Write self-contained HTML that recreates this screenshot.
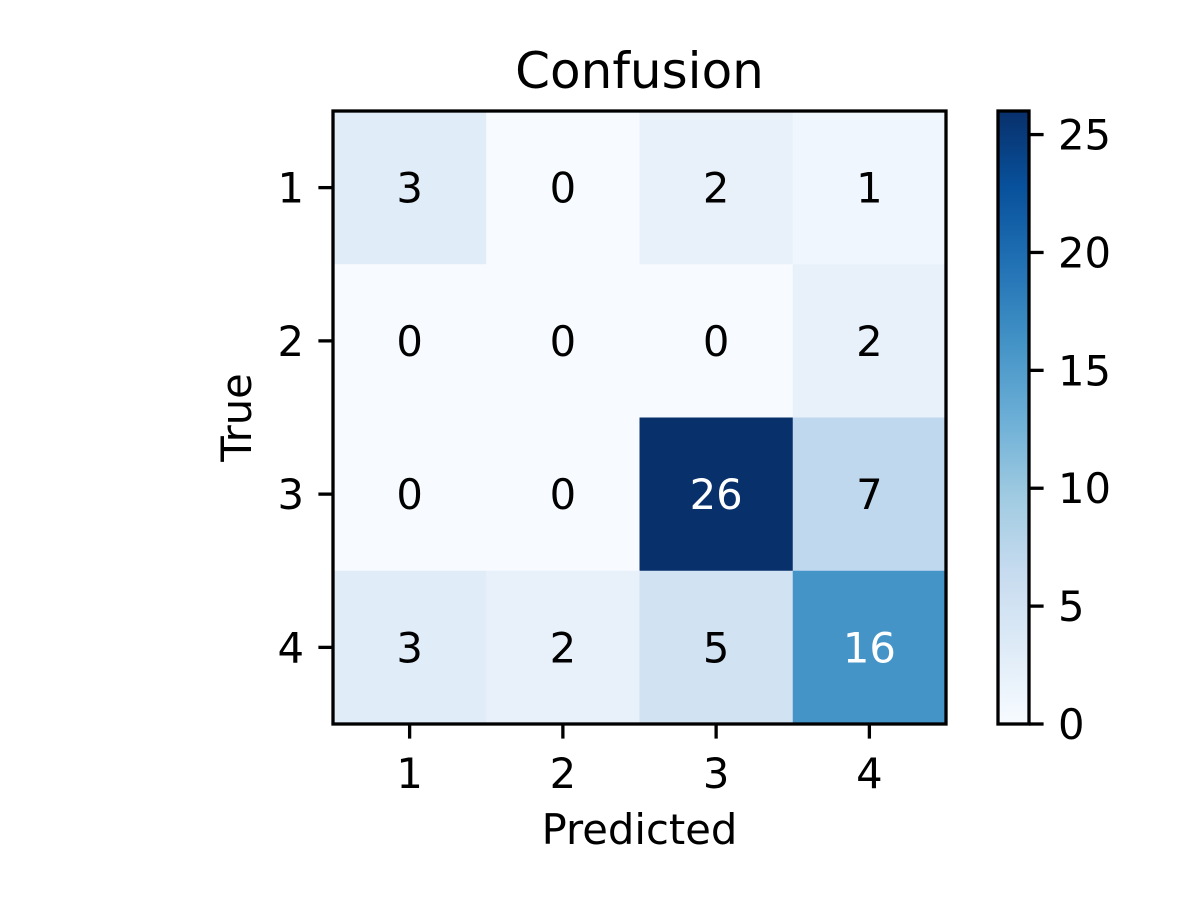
<!DOCTYPE html>
<html><head><meta charset="utf-8"><style>
html,body{margin:0;padding:0;background:#fff;}
svg text{font-family:"DejaVu Sans","Liberation Sans",sans-serif;}
</style></head><body>
<svg id="chart" width="1200" height="900" xmlns="http://www.w3.org/2000/svg">
<defs><linearGradient id="cbg" x1="0" y1="1" x2="0" y2="0"></linearGradient></defs>
</svg>
<script>
const rowLabels = ["1","2","3","4"];
const colLabels = ["1","2","3","4"];
const matrix = [
  [3,0,2,1],
  [0,0,0,2],
  [0,0,26,7],
  [3,2,5,16]
];
const cbarTicks = [0,5,10,15,20,25];

const NS="http://www.w3.org/2000/svg";
const svg=document.getElementById('chart');
function mk(tag,attrs,parent){const e=document.createElementNS(NS,tag);for(const k in attrs)e.setAttribute(k,attrs[k]);(parent||svg).appendChild(e);return e;}
const stops=["#f7fbff","#deebf7","#c6dbef","#9ecae1","#6baed6","#4292c6","#2171b5","#08519c","#08306b"];
function hex(h){return [1,3,5].map(i=>parseInt(h.substr(i,2),16));}
function blues(t){t=Math.max(0,Math.min(1,t));const p=t*(stops.length-1);const i=Math.min(Math.floor(p),stops.length-2);const f=p-i;const a=hex(stops[i]),b=hex(stops[i+1]);return `rgb(${a.map((v,k)=>Math.round(v+(b[k]-v)*f)).join(',')})`;}
const vmin=0,vmax=Math.max(...matrix.flat());
const L=333,T=111,R=946,B=724;
const cw=(R-L)/colLabels.length,ch=(B-T)/rowLabels.length;
const xc=j=>L+cw*(j+0.5), yc=i=>T+ch*(i+0.5);
const fs=41.7;

// cells
matrix.forEach((row,i)=>row.forEach((v,j)=>{
  const r=mk('rect',{x:L+cw*j,y:T+ch*i,width:cw+0.5,height:ch+0.5,fill:blues((v-vmin)/(vmax-vmin))});
  
  
  const t=mk('text',{x:xc(j),y:yc(i)+15,'text-anchor':'middle','font-size':fs,fill:v>(vmax+vmin)/2?'#fff':'#000'});
  t.textContent=v;
  
  
}));
const fr=mk('rect',{x:L,y:T,width:R-L,height:B-T,fill:'none',stroke:'#000','stroke-width':3.3});



// x ticks
colLabels.forEach((c,j)=>{
  mk('line',{x1:xc(j),x2:xc(j),y1:B,y2:B+14.6,stroke:'#000','stroke-width':3.3});
  const t=mk('text',{x:xc(j),y:B+64,'text-anchor':'middle','font-size':fs});
  t.textContent=c;
  
  
});
rowLabels.forEach((r,i)=>{
  mk('line',{x1:L-14.6,x2:L,y1:yc(i),y2:yc(i),stroke:'#000','stroke-width':3.3});
  const t=mk('text',{x:L-29,y:yc(i)+15,'text-anchor':'end','font-size':fs});
  t.textContent=r;
  
  
});
const xt=mk('text',{x:(L+R)/2,y:844,'text-anchor':'middle','font-size':fs});
xt.textContent='Predicted';


const yt=mk('text',{x:0,y:0,'text-anchor':'middle','font-size':fs,transform:`translate(251,${(T+B)/2}) rotate(-90)`});
yt.textContent='True';


const tt=mk('text',{x:(L+R)/2,y:88,'text-anchor':'middle','font-size':50});
tt.textContent='Confusion';



// colorbar
const g=document.getElementById('cbg');
stops.forEach((s,k)=>mk('stop',{offset:k/(stops.length-1),'stop-color':s},g));
const CL=998,CR=1029;
const cy=v=>B-(v-vmin)/(vmax-vmin)*(B-T);
const cb=mk('rect',{x:CL,y:T,width:CR-CL,height:B-T,fill:'url(#cbg)',stroke:'#000','stroke-width':3.3});


cbarTicks.forEach(v=>{
  mk('line',{x1:CR,x2:CR+14.6,y1:cy(v),y2:cy(v),stroke:'#000','stroke-width':3.3});
  const t=mk('text',{x:CR+29,y:cy(v)+15,'font-size':fs});
  t.textContent=v;
  
  
});
</script>
</body></html>
